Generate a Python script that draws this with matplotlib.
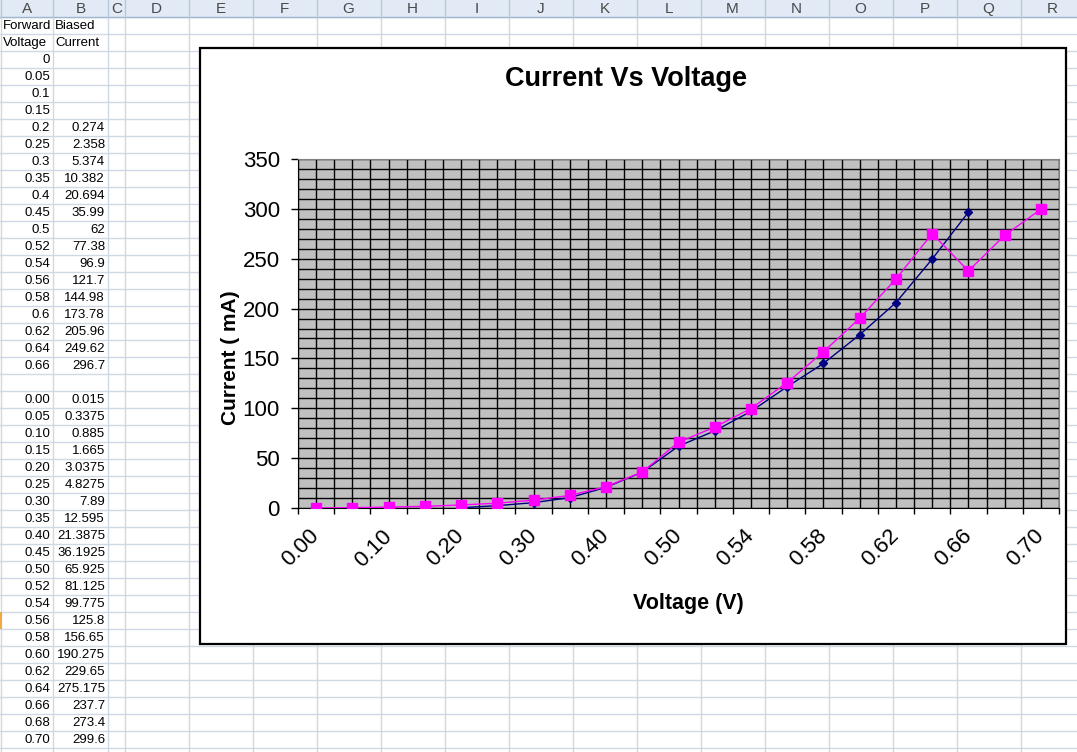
import matplotlib
matplotlib.use("Agg")
import matplotlib.pyplot as plt
import matplotlib.transforms as mtransforms
import numpy as np
from matplotlib.patches import Rectangle

plt.rcParams['font.family'] = ['Liberation Sans', 'DejaVu Sans']

# first block on the sheet: forward biased readings (blank current for the first rows)
volt_a = [0, 0.05, 0.1, 0.15, 0.2, 0.25, 0.3, 0.35, 0.4, 0.45, 0.5, 0.52, 0.54,
          0.56, 0.58, 0.6, 0.62, 0.64, 0.66]
curr_a = [None, None, None, None, 0.274, 2.358, 5.374, 10.382, 20.694, 35.99, 62,
          77.38, 96.9, 121.7, 144.98, 173.78, 205.96, 249.62, 296.7]

# second block
volt_b = [0.00, 0.05, 0.10, 0.15, 0.20, 0.25, 0.30, 0.35, 0.40, 0.45, 0.50, 0.52,
          0.54, 0.56, 0.58, 0.60, 0.62, 0.64, 0.66, 0.68, 0.70]
curr_b = [0.015, 0.3375, 0.885, 1.665, 3.0375, 4.8275, 7.89, 12.595, 21.3875,
          36.1925, 65.925, 81.125, 99.775, 125.8, 156.65, 190.275, 229.65, 275.175,
          237.7, 273.4, 299.6]

col_letters = list("ABCDEFGHIJKLMNOPQR")
header_a = ["Forward", "Voltage"]
header_b = ["Biased", "Current"]

W, H = 1077, 752
fig = plt.figure(figsize=(W / 100, H / 100), dpi=100)

# ---- spreadsheet background, in pixel coordinates ----
bg = fig.add_axes([0, 0, 1, 1])
bg.set_xlim(0, W)
bg.set_ylim(H, 0)
bg.axis('off')

row_h = 17
col_edges = [1, 53, 108, 124.5] + [124.5 + 64 * k for k in range(1, 16)]
grid_col = '#D0D7E5'

for y in np.arange(row_h, H + row_h, row_h):
    bg.plot([0, W], [y, y], color=grid_col, lw=1, zorder=1)
for x in col_edges:
    bg.plot([x, x], [row_h, H], color=grid_col, lw=1, zorder=1)

# column header strip
bg.add_patch(Rectangle((0, 0), W, row_h, facecolor='#E2EAF5', edgecolor='none', zorder=2))
bg.plot([0, W], [row_h, row_h], color='#9EB6CE', lw=1, zorder=3)
for x in col_edges:
    bg.plot([x, x], [0, row_h], color='#B8C7D9', lw=1, zorder=3)
for i, letter in enumerate(col_letters):
    cx = (col_edges[i] + col_edges[i + 1]) / 2
    bg.text(cx, row_h / 2 + 0.5, letter, ha='center', va='center', fontsize=11,
            color='#4A4A4A', zorder=4)

# active row marker at the left edge
bg.add_patch(Rectangle((0, row_h * 36), 2, row_h, facecolor='#F2A93B', edgecolor='none', zorder=2))


def row_y(r):
    return row_h + (r - 0.5) * row_h + 0.5


cell_fs = 9.5
for r, (ta, tb) in enumerate(zip(header_a, header_b), start=1):
    bg.text(3, row_y(r), ta, ha='left', va='center', fontsize=cell_fs, zorder=4)
    bg.text(55, row_y(r), tb, ha='left', va='center', fontsize=cell_fs, zorder=4)

r = 3
for v, c in zip(volt_a, curr_a):
    bg.text(50, row_y(r), f"{v:g}", ha='right', va='center', fontsize=cell_fs, zorder=4)
    if c is not None:
        bg.text(105, row_y(r), f"{c:g}", ha='right', va='center', fontsize=cell_fs, zorder=4)
    r += 1
r += 1
for v, c in zip(volt_b, curr_b):
    bg.text(50, row_y(r), f"{v:.2f}", ha='right', va='center', fontsize=cell_fs, zorder=4)
    bg.text(105, row_y(r), f"{c:g}", ha='right', va='center', fontsize=cell_fs, zorder=4)
    r += 1

# ---- chart object ----
bg.add_patch(Rectangle((200, 48), 866, 596, facecolor='white', edgecolor='black',
                       lw=1.6, zorder=5))
bg.text(626, 79, "Current Vs Voltage", ha='center', va='center', fontsize=19.5,
        fontweight='bold', zorder=6)
bg.text(230, 358, "Current ( mA)", ha='center', va='center', rotation=90,
        fontsize=15, fontweight='bold', zorder=6)
bg.text(688, 603, "Voltage (V)", ha='center', va='center', fontsize=15.5,
        fontweight='bold', zorder=6)

left, right, top, bottom = 298, 1059, 159, 508
ax = fig.add_axes([left / W, (H - bottom) / H, (right - left) / W, (bottom - top) / H])
ax.set_facecolor('#C0C0C0')

x_a = np.arange(len(volt_a))
x_b = np.arange(len(volt_b))
ax.plot(x_a, np.array(curr_a, dtype=float), color='#000080', lw=1, marker='D',
        markersize=4.5, zorder=4)
ax.plot(x_b, curr_b, color='#FF00FF', lw=1, marker='s', markersize=6.5,
        markeredgecolor='#FF00FF', zorder=5)

ax.set_xlim(-0.5, len(volt_b) - 0.5)
ax.set_ylim(0, 350)

# category boundaries carry the tick marks, centres carry the labels
ax.set_xticks(np.arange(-0.5, len(volt_b), 1))
ax.set_xticklabels([])
ax.set_xticks(x_b, minor=True)
ax.set_xticklabels([f"{v:.2f}" if i % 2 == 0 else "" for i, v in enumerate(volt_b)],
                   minor=True, rotation=45, ha='right', va='center',
                   rotation_mode='anchor', fontsize=16)
shift = mtransforms.ScaledTranslation(3 / 100, -1 / 100, fig.dpi_scale_trans)
for lab in ax.get_xticklabels(minor=True):
    lab.set_transform(lab.get_transform() + shift)
ax.tick_params(axis='x', which='major', direction='out', length=4.5, width=1)
ax.tick_params(axis='x', which='minor', length=0, pad=18)

ax.set_yticks(np.arange(0, 351, 50))
ax.set_yticks(np.arange(0, 351, 10), minor=True)
ax.tick_params(axis='y', which='major', direction='out', length=5, width=1,
               pad=8, labelsize=16)
ax.tick_params(axis='y', which='minor', length=0)

ax.grid(which='both', color='black', lw=1)
ax.set_axisbelow(True)
for side in ['top', 'right']:
    ax.spines[side].set_color('#808080')
for side in ['left', 'bottom']:
    ax.spines[side].set_color('black')

fig.savefig("out.png", dpi=100)
